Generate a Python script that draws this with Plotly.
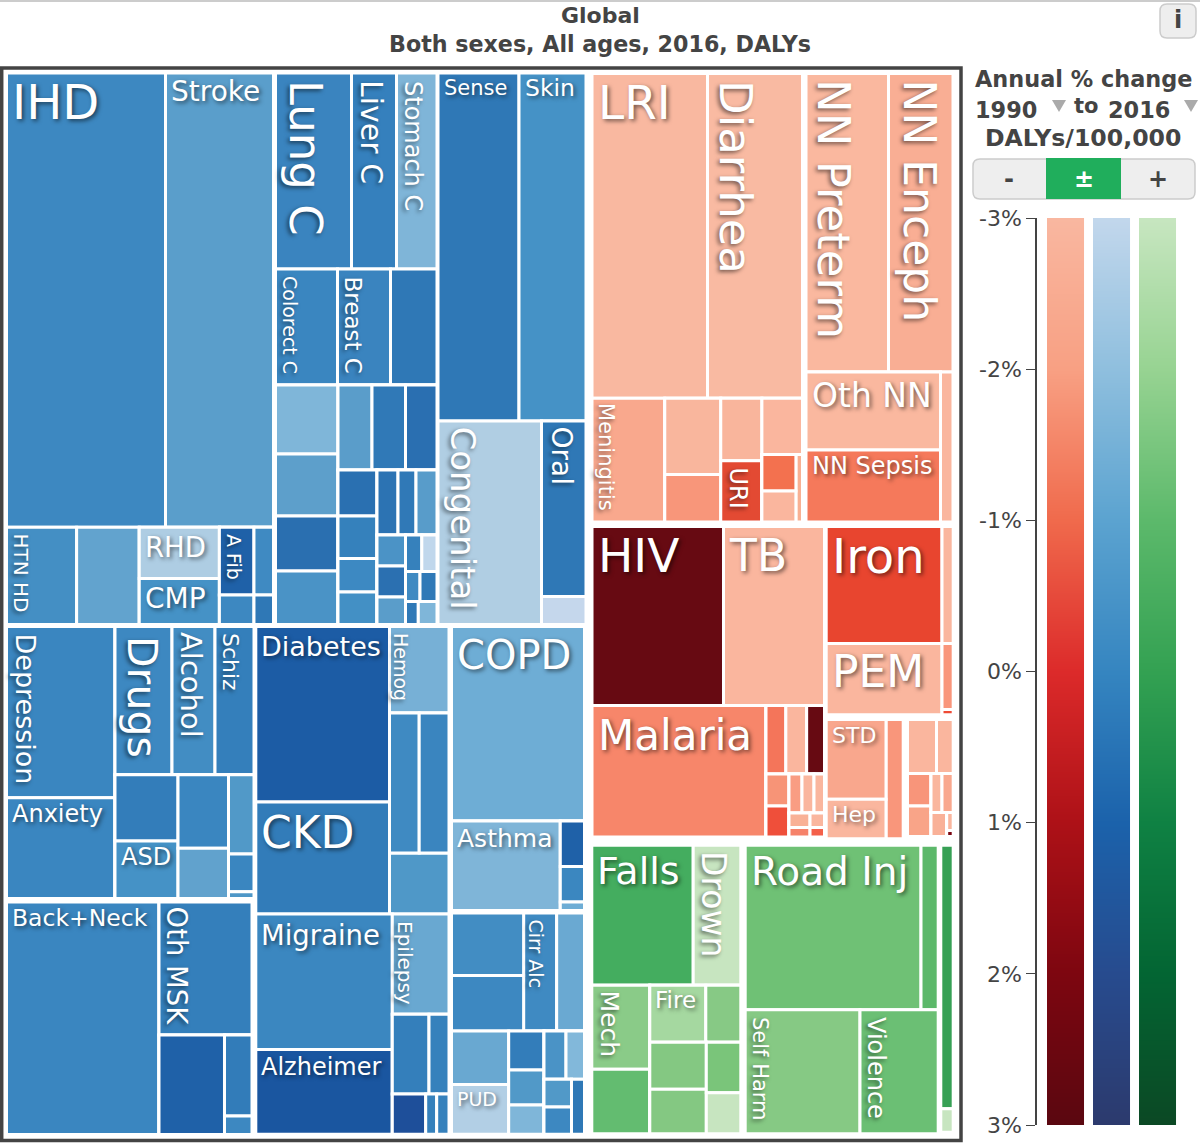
import plotly.graph_objects as go

W = "#ffffff"
GREY = "#444444"
FONT = "DejaVu Sans"
SHADOW = "2px 2px 4px rgba(0,0,0,0.55)"

# one treemap per block of the page, so the wider gaps between groups stay
block_names = ["cvd", "neo", "sen", "men", "msk", "ner", "res", "dig", "lri", "nn", "com", "iro", "std", "oth", "gr", "inj", "gx"]
block_x0 = [6.5, 275.5, 438, 6.5, 6.5, 255.8, 451.5, 451.5, 592, 806, 592, 826.2, 826.2, 907.5, 591.8, 745.2, 940.8]
block_x1 = [273.5, 437, 586, 254, 252, 449, 584.5, 584.5, 802.5, 953, 824.5, 953.2, 903.2, 953.2, 740.8, 938.2, 953.2]
block_y0 = [73, 73, 73, 626.5, 902, 626.5, 626.5, 913, 73.5, 73.5, 526.5, 526.5, 719.5, 719.5, 845.2, 845.2, 845.2]
block_y1 = [624.5, 624.5, 624.5, 898.5, 1134.5, 1134.3, 910.5, 1134.3, 522, 522, 837, 714.8, 838.8, 836.5, 1133.8, 1133.8, 1132.2]
blocks_side_by_side = ["men", "msk", "iro", "std"]

node_ids = [
    "cvd", "cvd_a", "ihd", "stroke", "cvd_b", "htn", "cvd_2", "cvd_c", "rhd", "cmp", "cvd_d", "cvd_e", "afib", "cvd_3", "cvd_f", "cvd_4", "cvd_5",
    "neo", "neo_a", "lung", "liver", "stomach", "neo_b", "colorect", "breast", "neo_1",
    "neo_c", "neo_d", "neo_2", "neo_3", "neo_4", "neo_5", "neo_e", "neo_f", "neo_6", "neo_7", "neo_8",
    "neo_g", "neo_h", "neo_9", "neo_10", "neo_11", "neo_12", "neo_i", "neo_j", "neo_13", "neo_14", "neo_15",
    "neo_k", "neo_l", "neo_16", "neo_17", "neo_18", "neo_m", "neo_n", "neo_19", "neo_20", "neo_o", "neo_21", "neo_22", "neo_p", "neo_23", "neo_24",
    "sen", "sen_a", "sense", "skin", "sen_b", "congenital", "sen_c", "oral", "sen_1",
    "men", "men_a", "depression", "anxiety", "men_b", "men_c", "drugs", "alcohol", "schiz",
    "men_d", "men_e", "men_1", "asd", "men_f", "men_2", "men_3", "men_g", "men_4", "men_5", "men_6",
    "msk", "back", "msk_a", "othmsk", "msk_b", "msk_1", "msk_c", "msk_2", "msk_3",
    "ner", "ner_a", "ner_b", "diabetes", "ckd", "ner_c", "hemog", "ner_d", "ner_1", "ner_2", "ner_3",
    "ner_e", "ner_f", "migraine", "alzheimer", "ner_g", "epilepsy", "ner_h", "ner_4", "ner_5", "ner_i", "ner_6", "ner_7", "ner_8",
    "res", "copd", "res_a", "asthma", "res_b", "res_1", "res_2", "res_3",
    "dig", "dig_a", "dig_b", "dig_1", "dig_2", "cirr", "dig_3",
    "dig_c", "dig_d", "dig_4", "pud", "dig_e", "dig_5", "dig_6", "dig_7", "dig_f", "dig_g", "dig_8", "dig_9", "dig_h", "dig_i", "dig_10", "dig_11", "dig_12",
    "lri", "lri_a", "lrinf", "diarrhea", "lri_b", "meningitis", "lri_c", "lri_1", "lri_2", "lri_d", "lri_3", "uri", "lri_e", "lri_4", "lri_f", "lri_g", "lri_5", "lri_6", "lri_7",
    "nn", "nn_a", "preterm", "enceph", "nn_b", "nn_c", "othnn", "sepsis", "nn_1",
    "com", "com_a", "hiv", "tb", "com_b", "malaria", "com_c", "com_d", "com_1", "com_2", "com_3",
    "com_e", "com_f", "com_4", "com_5", "com_g", "com_h", "com_6", "com_7", "com_8", "com_i", "com_j", "com_9", "com_10", "com_k", "com_11", "com_12",
    "iro", "iro_a", "iron", "pem", "iro_b", "iro_1", "iro_2", "iro_3",
    "std", "std_a", "stdi", "hep", "std_1",
    "oth", "oth_a", "oth_1", "oth_2", "oth_b", "oth_c", "oth_3", "oth_4", "oth_d", "oth_e", "oth_5", "oth_6", "oth_f", "oth_7", "oth_g", "oth_8", "oth_9",
    "gr", "gr_a", "falls", "drown", "gr_b", "gr_c", "mech", "gr_1", "gr_d", "gr_e", "fire", "gr_2", "gr_f", "gr_g", "gr_3", "gr_4", "gr_h", "gr_5", "gr_6",
    "inj", "inj_a", "road", "inj_1", "inj_b", "selfharm", "violence",
    "gx", "gx_1", "gx_2",
]
node_parents = [
    "", "cvd", "cvd_a", "cvd_a", "cvd", "cvd_b", "cvd_b", "cvd_b", "cvd_c", "cvd_c", "cvd_b", "cvd_d", "cvd_e", "cvd_e", "cvd_d", "cvd_f", "cvd_f",
    "", "neo", "neo_a", "neo_a", "neo_a", "neo", "neo_b", "neo_b", "neo_b",
    "neo", "neo_c", "neo_d", "neo_d", "neo_d", "neo_d", "neo_c", "neo_e", "neo_f", "neo_f", "neo_f",
    "neo_e", "neo_g", "neo_h", "neo_h", "neo_h", "neo_h", "neo_g", "neo_i", "neo_j", "neo_j", "neo_j",
    "neo_i", "neo_k", "neo_l", "neo_l", "neo_l", "neo_k", "neo_m", "neo_n", "neo_n", "neo_m", "neo_o", "neo_o", "neo_m", "neo_p", "neo_p",
    "", "sen", "sen_a", "sen_a", "sen", "sen_b", "sen_b", "sen_c", "sen_c",
    "", "men", "men_a", "men_a", "men", "men_b", "men_c", "men_c", "men_c",
    "men_b", "men_d", "men_e", "men_e", "men_d", "men_f", "men_f", "men_d", "men_g", "men_g", "men_g",
    "", "msk", "msk", "msk_a", "msk_a", "msk_b", "msk_b", "msk_c", "msk_c",
    "", "ner", "ner_a", "ner_b", "ner_b", "ner_a", "ner_c", "ner_c", "ner_d", "ner_d", "ner_c",
    "ner", "ner_e", "ner_f", "ner_f", "ner_e", "ner_g", "ner_g", "ner_h", "ner_h", "ner_g", "ner_i", "ner_i", "ner_i",
    "", "res", "res", "res_a", "res_a", "res_b", "res_b", "res_b",
    "", "dig", "dig_a", "dig_b", "dig_b", "dig_a", "dig_a",
    "dig", "dig_c", "dig_d", "dig_d", "dig_c", "dig_e", "dig_e", "dig_e", "dig_c", "dig_f", "dig_g", "dig_g", "dig_f", "dig_h", "dig_i", "dig_i", "dig_h",
    "", "lri", "lri_a", "lri_a", "lri", "lri_b", "lri_b", "lri_c", "lri_c", "lri_b", "lri_d", "lri_d", "lri_b", "lri_e", "lri_e", "lri_f", "lri_g", "lri_g", "lri_f",
    "", "nn", "nn_a", "nn_a", "nn", "nn_b", "nn_c", "nn_c", "nn_b",
    "", "com", "com_a", "com_a", "com", "com_b", "com_b", "com_c", "com_d", "com_d", "com_d",
    "com_c", "com_e", "com_f", "com_f", "com_e", "com_g", "com_h", "com_h", "com_h", "com_g", "com_i", "com_j", "com_j", "com_i", "com_k", "com_k",
    "", "iro", "iro_a", "iro_a", "iro", "iro_b", "iro_b", "iro_b",
    "", "std", "std_a", "std_a", "std",
    "", "oth", "oth_a", "oth_a", "oth", "oth_b", "oth_c", "oth_c", "oth_b", "oth_d", "oth_e", "oth_e", "oth_d", "oth_f", "oth_f", "oth_g", "oth_g",
    "", "gr", "gr_a", "gr_a", "gr", "gr_b", "gr_c", "gr_c", "gr_b", "gr_d", "gr_e", "gr_e", "gr_d", "gr_f", "gr_g", "gr_g", "gr_f", "gr_h", "gr_h",
    "", "inj", "inj_a", "inj_a", "inj", "inj_b", "inj_b",
    "", "gx", "gx",
]
node_values = [
    0, 0, 72186, 49032, 0, 6825, 6094, 0, 4120, 3680, 0, 0, 2346, 1326, 0, 1018, 575,
    0, 0, 14896, 8820, 7938, 0, 7192, 6148, 5394,
    0, 0, 4312, 3875, 3438, 3344, 0, 0, 2890, 2848, 2678,
    0, 0, 1794, 1658, 1306, 1268, 0, 0, 1365, 1170, 1365,
    0, 0, 884, 884, 784, 0, 0, 595, 555, 0, 435, 510, 0, 294, 430,
    0, 0, 28188, 23316, 0, 21062, 0, 7810, 1246,
    0, 0, 18586, 10926, 0, 0, 8447, 6373, 5780,
    0, 0, 4177, 3623, 0, 3717, 2535, 0, 2022, 964, 171,
    0, 35456, 0, 12369, 0, 6517, 0, 2228, 509,
    0, 0, 0, 23464, 14974, 0, 5147, 0, 4158, 4172, 3630,
    0, 0, 18496, 11575, 0, 5687, 0, 2925, 1594, 0, 1346, 443, 496,
    0, 25869, 0, 9738, 0, 1101, 859, 206,
    0, 0, 0, 4500, 3996, 3894, 3280,
    0, 0, 3060, 2849, 0, 1377, 1236, 1034, 0, 0, 1063, 894, 0, 0, 765, 748, 715,
    0, 0, 37480, 30828, 0, 8990, 0, 4256, 2660, 0, 2571, 2513, 0, 2276, 0, 0, 1242, 1052, 445,
    0, 0, 24626, 19253, 0, 0, 10491, 9684, 1875,
    0, 0, 23539, 18079, 0, 22902, 0, 0, 1360, 1428, 1224,
    0, 0, 736, 713, 0, 0, 507, 468, 410, 0, 0, 305, 200, 0, 210, 138,
    0, 0, 13549, 8257, 0, 1310, 739, 59,
    0, 0, 4772, 2362, 2052,
    0, 0, 1560, 898, 0, 0, 764, 717, 0, 0, 429, 437, 0, 377, 0, 117, 39,
    0, 0, 14196, 6664, 0, 0, 4872, 3747, 0, 0, 3192, 1995, 0, 0, 2656, 2520, 0, 1742, 1418,
    0, 0, 28919, 2829, 0, 14247, 9705,
    0, 3267, 291,
]
node_colors = [
    W, W, "#3d88c1", "#5a9ecb", W, "#448fc4", "#62a3ce", W, "#aecde3", "#4592c6", W, W, "#1f61a8", "#3f8ac2", W, "#3d88c1", "#2f78b6",
    W, W, "#3a84bf", "#3580bd", "#7fb5d8", W, "#3a86c0", "#3a84bf", "#2f78b6",
    W, W, "#7fb6d9", "#5d9fcb", "#2a6fb0", "#4a93c6", W, W, "#5a9dca", "#3079b7", "#2a6fb1",
    W, W, "#2a70b1", "#3581bc", "#3d89c2", "#4390c5", W, W, "#2c73b3", "#3079b7", "#589cca",
    W, W, "#4b93c6", "#2b70b1", "#5a9dca", W, W, "#3681bc", "#c0d7ec", W, "#3f8ac2", "#3079b7", W, "#2f79b7", "#7fb6d9",
    W, W, "#2f78b6", "#4592c6", W, "#b0cee3", W, "#2f78b6", "#c5d7ec",
    W, W, "#3a86c0", "#3a86c0", W, W, "#3d88c1", "#428dc3", "#347fbb",
    W, W, "#337dba", "#4592c6", W, "#3a86c0", "#61a2cd", W, "#5199c8", "#3a86c0", "#4e97c7",
    W, "#3a86c0", W, "#347fbb", W, "#1f61a8", W, "#327cb9", "#3d88c1",
    W, W, W, "#1c5ca5", "#327cb9", W, "#77b0d6", W, "#3f8ac2", "#3a85bf", "#4f98c8",
    W, W, "#3b87c0", "#1a56a0", W, "#69a8d1", W, "#347fbb", "#3681bc", W, "#1e4f9a", "#3681bc", "#3681bc",
    W, "#6eadd5", W, "#7fb5d8", W, "#1f61a8", "#3b87c0", "#6eadd5",
    W, W, W, "#428dc3", "#3d88c1", "#3f8ac2", "#6aa9d2",
    W, W, "#69a8d1", "#b2cfe5", W, "#337dba", "#5199c8", "#7fb6d9", W, W, "#4a93c6", "#82b8da", W, W, "#5199c8", "#3d88c1", "#2f78b6",
    W, W, "#f9b8a0", "#f9baa2", W, "#f9a88d", W, "#f9b69d", "#f8967a", W, "#f9b59c", "#e34a33", W, "#fab69e", W, W, "#f3714f", "#fab69e", "#f8b093",
    W, W, "#fab89f", "#f9ae94", W, W, "#fab89f", "#f5795b", "#fab69e",
    W, W, "#670a12", "#fab69e", W, "#f7866a", W, W, "#f4755a", "#fab69e", "#670a12",
    W, W, "#f79477", "#ef4f3a", W, W, "#f99d83", "#fab69e", "#fab69e", W, W, "#f9b196", "#f6826a", W, "#fab69e", "#f4604a",
    W, W, "#e8452f", "#fab69e", W, "#fab69e", "#f9967b", "#ee4a35",
    W, W, "#f9a78d", "#fab69e", "#f9967b",
    W, W, "#fab69e", "#fab69e", W, W, "#f8957a", "#f9a488", W, W, "#fab69e", "#f9a88e", W, "#f9b198", W, "#fab69e", "#7a0510",
    W, W, "#44ad5f", "#c7e5c0", W, W, "#8acb88", "#63bc70", W, W, "#a5d8a0", "#87c985", W, W, "#84c882", "#84c882", W, "#7ac57a", "#c7e5c0",
    W, W, "#6fc175", "#5cb86a", W, "#86c984", "#6bbf74",
    W, "#37a055", "#c7e5c0",
]

label_sizes = {
    "IHD": 48, "Stroke": 28, "Lung C": 45, "Liver C": 30, "Stomach C": 24, "Colorect C": 19, "Breast C": 23,
    "Sense": 21, "Skin": 23.5, "Congenital": 34, "Oral": 28, "HTN HD": 20, "RHD": 27.5, "CMP": 28, "A Fib": 19,
    "Depression": 27, "Anxiety": 24, "Drugs": 41, "Alcohol": 29, "Schiz": 22, "ASD": 24, "Back+Neck": 23.5, "Oth MSK": 27.5,
    "Diabetes": 27, "CKD": 44, "Hemog": 19, "COPD": 40, "Asthma": 25, "Migraine": 27.5, "Epilepsy": 20, "Alzheimer": 24,
    "Cirr Alc": 19, "PUD": 19, "LRI": 47, "Diarrhea": 45, "NN Preterm": 45, "NN Enceph": 44, "Oth NN": 33,
    "NN Sepsis": 24, "Meningitis": 21, "URI": 24, "HIV": 47, "TB": 44, "Iron": 48, "PEM": 44, "Malaria": 42,
    "STD": 22, "Hep": 22, "Falls": 38, "Drown": 33, "Road Inj": 39, "Mech": 25, "Fire": 23, "Self Harm": 21, "Violence": 24,
}

# cell names written across: left x, middle y
flat_labels = ["IHD", "Stroke", "RHD", "CMP", "Sense", "Skin", "Anxiety", "ASD", "Back+Neck", "Diabetes", "CKD", "COPD", "Asthma",
               "Migraine", "Alzheimer", "PUD", "LRI", "Oth NN", "NN Sepsis", "HIV", "TB", "Iron", "PEM", "Malaria", "STD", "Hep",
               "Falls", "Road Inj", "Fire"]
flat_x = [11, 170, 144, 144, 442.5, 523.5, 11, 119.5, 11, 260.3, 260.3, 456, 456,
          260.3, 260.3, 456, 596.5, 810.5, 810.5, 596.5, 728, 830.7, 830.7, 596.5, 830.7, 830.7,
          596.3, 749.7, 654.3]
flat_y = [102, 91, 547, 598, 88, 88, 814, 857, 918, 646, 832, 655, 838,
          935, 1067, 1099, 102, 395, 466, 555, 555, 556, 672, 735, 735, 814,
          871, 871, 1000]

# cell names written downwards: centre x, top y
turned_labels = ["Lung C", "Liver C", "Stomach C", "Colorect C", "Breast C", "Congenital", "Oral", "HTN HD", "A Fib",
                 "Depression", "Drugs", "Alcohol", "Schiz", "Oth MSK", "Hemog", "Epilepsy", "Cirr Alc", "Diarrhea",
                 "NN Preterm", "NN Enceph", "Meningitis", "URI", "Drown", "Mech", "Self Harm", "Violence"]
turned_x = [306, 372, 413, 290, 353, 463, 561, 21, 234, 25, 142, 191, 231, 177, 401, 405, 536, 736, 834, 919, 606, 738, 714, 609, 760, 876]
turned_y = [79, 79, 80, 275, 275, 426, 425, 532, 533, 632, 635, 631, 632, 905, 632, 920, 918, 79, 78, 78, 402, 466, 850, 990, 1016, 1016]

# colour key
key_levels = [-3, -2, -1, 0, 1, 2, 3]
key_ticks = ["-3%", "-2%", "-1%", "0%", "1%", "2%", "3%"]
key_reds = ["#f9b7a0", "#f8a083", "#f06a4c", "#dc2a2a", "#ad1117", "#7d0610", "#5a0710"]
key_blues = ["#c2d7ec", "#8fbfde", "#5ba3d0", "#3585c0", "#1b62ab", "#274b8e", "#2c3a6d"]
key_greens = ["#c7e6c0", "#97d392", "#5cb96b", "#33a152", "#0f8143", "#036533", "#0b4824"]


def px(x):
    return x / 1200


def py(y):
    return 1 - y / 1145


def children_of(root):
    keep = {root}
    for i, p in zip(node_ids, node_parents):
        if p in keep:
            keep.add(i)
    return [k for k, i in enumerate(node_ids) if i in keep]


def rounded(x0, y0, x1, y1, r):
    return ("M %f %f L %f %f Q %f %f %f %f L %f %f Q %f %f %f %f L %f %f Q %f %f %f %f L %f %f Q %f %f %f %f Z" % (
        px(x0 + r), py(y0), px(x1 - r), py(y0), px(x1), py(y0), px(x1), py(y0 + r),
        px(x1), py(y1 - r), px(x1), py(y1), px(x1 - r), py(y1),
        px(x0 + r), py(y1), px(x0), py(y1), px(x0), py(y1 - r),
        px(x0), py(y0 + r), px(x0), py(y0), px(x0 + r), py(y0)))


fig = go.Figure()

for b, name in enumerate(block_names):
    idx = children_of(name)
    fig.add_trace(go.Treemap(
        ids=[node_ids[k] for k in idx],
        parents=[node_parents[k] for k in idx],
        labels=[node_ids[k] for k in idx],
        values=[node_values[k] for k in idx],
        textinfo="none",
        sort=False,
        branchvalues="remainder",
        hoverinfo="skip",
        domain=dict(x=[px(block_x0[b]), px(block_x1[b])], y=[py(block_y1[b]), py(block_y0[b])]),
        tiling=dict(packing="slice-dice" if name in blocks_side_by_side else "dice-slice", pad=0),
        pathbar=dict(visible=False),
        marker=dict(
            colors=[node_colors[k] for k in idx],
            line=dict(color=W, width=3),
            pad=dict(t=0, l=0, r=0, b=0),
        ),
    ))

columns = [("reds", key_reds), ("blues", key_blues), ("greens", key_greens)]
for c, (name, shades) in enumerate(columns):
    stops = [[k / (len(shades) - 1), s] for k, s in enumerate(shades)]
    fig.add_trace(go.Heatmap(
        x=[c - 0.201, c + 0.201],
        y=key_levels,
        z=[[v, v] for v in key_levels],
        zmin=-3,
        zmax=3,
        zsmooth="best",
        colorscale=stops,
        showscale=False,
        hoverinfo="skip",
        xaxis="x",
        yaxis="y",
    ))

annotations = []
for name, x, y in zip(flat_labels, flat_x, flat_y):
    annotations.append(dict(
        text=name, x=px(x), y=py(y), xref="paper", yref="paper",
        xanchor="left", yanchor="middle", showarrow=False, borderpad=0,
        font=dict(family=FONT, size=label_sizes[name], color=W, shadow=SHADOW),
    ))
for name, x, y in zip(turned_labels, turned_x, turned_y):
    annotations.append(dict(
        text=name, textangle=90, x=px(x), y=py(y), xref="paper", yref="paper",
        xanchor="center", yanchor="top", showarrow=False, borderpad=0,
        font=dict(family=FONT, size=label_sizes[name], color=W, shadow=SHADOW),
    ))


def head(text, x, y, size, color=GREY):
    annotations.append(dict(
        text="<b>%s</b>" % text, x=px(x), y=py(y), xref="paper", yref="paper",
        xanchor="center", yanchor="middle", showarrow=False, borderpad=0,
        font=dict(family=FONT, size=size, color=color),
    ))


head("Global", 600, 16, 22)
head("Both sexes, All ages, 2016, DALYs", 600, 44, 22.2)
head("Annual % change", 1083, 79, 22.4)
head("1990", 1006, 110, 22.4)
head("to", 1086, 106, 21)
head("2016", 1139, 110, 22.4)
head("DALYs/100,000", 1083, 138.5, 23.6)
head("-", 1009, 179, 24)
head("±", 1084, 179, 24, W)
head("+", 1158, 179, 24)
head("i", 1178, 20, 24)

shapes = [
    dict(type="rect", xref="paper", yref="paper", x0=px(1.7), x1=px(961), y0=py(1140.5), y1=py(68), line=dict(color=GREY, width=3.5)),
    dict(type="line", xref="paper", yref="paper", x0=0, x1=1, y0=py(1), y1=py(1), line=dict(color="#cccccc", width=2)),
    dict(type="path", xref="paper", yref="paper", path=rounded(973, 159, 1195, 199, 7), fillcolor="#eeeeee", line=dict(color="#cccccc", width=1.5)),
    dict(type="rect", xref="paper", yref="paper", x0=px(1046), x1=px(1121), y0=py(199), y1=py(158), fillcolor="#20ae5c", line=dict(width=0)),
    dict(type="path", xref="paper", yref="paper", path=rounded(1160, 4, 1196, 38, 7), fillcolor="#eeeeee", line=dict(color="#cccccc", width=1.5)),
]
for tx in [1059, 1191]:
    shapes.append(dict(
        type="path", xref="paper", yref="paper", fillcolor="#aaaaaa", line=dict(width=0),
        path="M %f %f L %f %f L %f %f Z" % (px(tx - 7), py(100), px(tx + 7), py(100), px(tx), py(112)),
    ))

fig.update_layout(
    width=1200,
    height=1145,
    margin=dict(l=0, r=0, t=0, b=0, autoexpand=False),
    paper_bgcolor=W,
    plot_bgcolor=W,
    showlegend=False,
    annotations=annotations,
    shapes=shapes,
    xaxis=dict(domain=[px(1037), px(1180)], range=[-0.6196, 2.489], visible=False, fixedrange=True),
    yaxis=dict(
        domain=[py(1125), py(218)],
        range=[3, -3],
        tickvals=key_levels,
        ticktext=key_ticks,
        ticks="outside",
        ticklen=9,
        tickcolor=GREY,
        showline=True,
        linecolor=GREY,
        linewidth=1.5,
        showgrid=False,
        zeroline=False,
        tickfont=dict(family=FONT, size=22, color=GREY),
        anchor="x",
    ),
)

fig.write_html("out.html", config={"displayModeBar": False}, post_script="document.body.style.margin='0';")
